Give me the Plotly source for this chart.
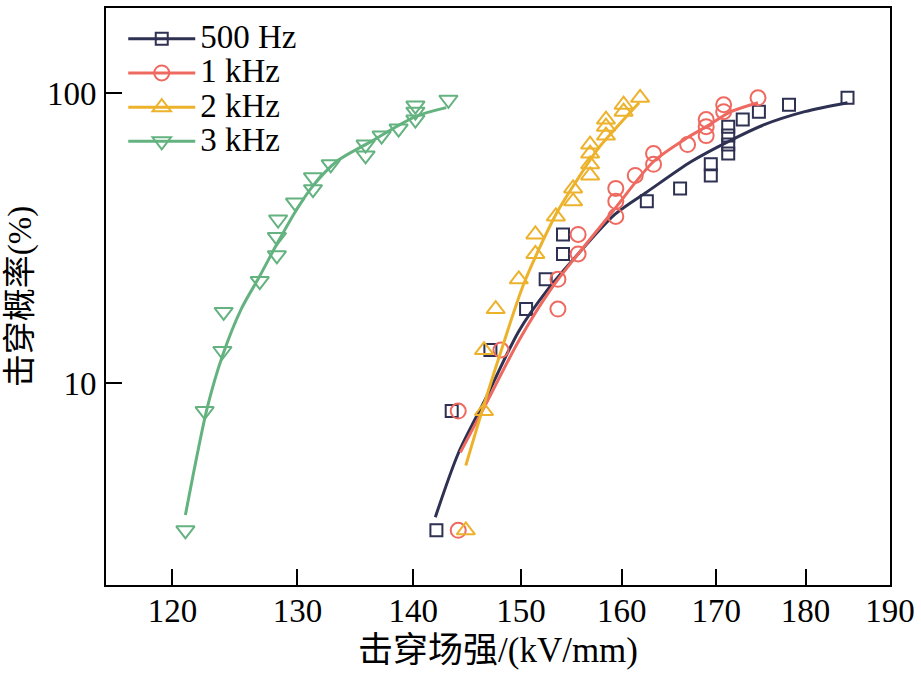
import plotly.graph_objects as go
import math

# ---- data ----
# 500 Hz
hz500_x = [142.1, 143.5, 147.1, 150.5, 152.4, 154.1, 154.1, 162.6, 166.1, 169.4,
           169.4, 171.3, 171.3, 171.3, 171.3, 172.9, 174.7, 178.1, 184.9]
hz500_y = [3.1, 8.0, 13.0, 18.0, 22.8, 27.9, 32.6, 42.4, 47.0, 52.1,
           56.9, 62.0, 66.6, 71.5, 76.8, 81.2, 86.5, 91.4, 96.6]
fit500_x = [142.0, 144.1, 146.7, 149.8, 152.5, 155.6, 159.3, 162.7, 167.3, 171.3, 175.3, 179.9, 184.9]
fit500_y = [3.44, 5.71, 8.90, 15.1, 20.8, 27.9, 38.2, 45.9, 58.2, 68.2, 78.0, 86.5, 92.9]

# 1 kHz
k1_x = [144.1, 144.1, 148.1, 153.6, 153.6, 155.6, 155.6, 159.4, 159.4, 159.4,
        161.4, 163.3, 163.3, 166.9, 168.9, 168.9, 168.9, 170.8, 170.8, 174.6]
k1_y = [3.1, 8.0, 13.0, 18.0, 22.8, 27.9, 32.6, 37.6, 42.4, 47.0,
        52.1, 56.9, 62.0, 66.6, 71.5, 76.8, 81.2, 86.5, 91.4, 96.6]
fit1k_x = [144.3, 146.7, 149.8, 153.0, 155.6, 159.1, 163.3, 166.9, 169.1, 171.6, 174.6]
fit1k_y = [5.76, 8.49, 14.0, 21.3, 27.9, 39.2, 58.2, 70.4, 77.4, 86.5, 92.9]

# 2 kHz
k2_x = [144.8, 146.5, 146.5, 147.6, 149.8, 151.4, 151.4, 153.4, 155.1, 155.1,
        156.8, 156.8, 156.8, 156.8, 158.4, 158.4, 158.4, 160.2, 160.2, 161.9]
k2_y = [3.1, 8.0, 13.0, 18.0, 22.8, 27.9, 32.6, 37.6, 42.4, 47.0,
        52.1, 56.9, 62.0, 66.6, 71.5, 76.8, 81.2, 86.5, 91.4, 96.6]
fit2k_x = [144.8, 146.7, 148.2, 150.3, 153.4, 155.6, 157.6, 160.0, 161.8]
fit2k_y = [5.19, 8.90, 13.2, 22.1, 38.2, 50.9, 64.5, 79.9, 92.9]

# 3 kHz
k3_x = [121.0, 122.5, 123.9, 124.0, 126.9, 128.3, 128.3, 128.4, 129.8, 131.3,
        131.3, 132.8, 135.8, 135.8, 137.2, 138.7, 140.2, 140.2, 140.2, 143.2]
k3_y = [3.1, 8.0, 12.9, 17.6, 22.5, 27.6, 31.9, 36.7, 42.0, 46.7,
        51.3, 56.9, 61.1, 66.6, 71.5, 75.6, 81.2, 86.5, 90.8, 95.1]
fit3k_x = [121.0, 122.7, 123.9, 125.4, 126.9, 128.3, 129.9, 131.2, 133.3, 136.1, 140.2, 143.0]
fit3k_y = [3.5, 8.2, 12.4, 18.0, 23.4, 30.2, 39.5, 47.4, 58.2, 67.6, 83.2, 89.3]

x_ticks = [120, 130, 140, 150, 160, 170, 180, 190]
y_ticks = [10, 100]

series = [
    ("500 Hz", hz500_x, hz500_y, fit500_x, fit500_y, "#2E3152", "square-open", 12),
    ("1 kHz", k1_x, k1_y, fit1k_x, fit1k_y, "#EE6A60", "circle-open", 15),
    ("2 kHz", k2_x, k2_y, fit2k_x, fit2k_y, "#EDB22B", "triangle-up-open", 16),
    ("3 kHz", k3_x, k3_y, fit3k_x, fit3k_y, "#63B27F", "triangle-down-open", 16),
]

fig = go.Figure()
for name, px_, py_, fx, fy, color, sym, size in series:
    fig.add_trace(go.Scatter(x=fx, y=fy, mode="lines",
                             line=dict(color=color, width=3, shape="spline", smoothing=0.8),
                             showlegend=False, hoverinfo="skip"))
    fig.add_trace(go.Scatter(x=px_, y=py_, mode="markers",
                             marker=dict(symbol=sym, size=size, color=color, line=dict(color=color, width=2)),
                             showlegend=False))
    fig.add_trace(go.Scatter(x=[None], y=[None], mode="lines+markers",
                             name="<span style='font-size:33px'>" + name + "</span>",
                             line=dict(color=color, width=3),
                             marker=dict(symbol=sym, size=size, color=color, line=dict(color=color, width=2))))

font_main = "Liberation Serif, Times New Roman, Noto Sans CJK SC"

fig.update_layout(
    width=921, height=675,
    margin=dict(l=106, r=28, t=6, b=90),
    paper_bgcolor="white", plot_bgcolor="white",
    font=dict(family=font_main, color="black", size=30),
    legend=dict(x=0.022, y=0.985, xanchor="left", yanchor="top", bgcolor="rgba(0,0,0,0)",
                font=dict(size=24, family=font_main), itemwidth=67, tracegroupgap=0),
    xaxis=dict(type="log", range=[math.log10(115), math.log10(190)],
               tickvals=x_ticks, ticktext=[str(v) for v in x_ticks],
               ticks="inside", ticklen=16, tickwidth=2, tickcolor="black",
               showline=True, linecolor="black", linewidth=2, mirror=True,
               showgrid=False, zeroline=False, ticklabelstandoff=-5,
               tickfont=dict(size=33, family=font_main),
               title=dict(text="击穿场强/(kV/mm)", font=dict(size=35, family=font_main), standoff=10)),
    yaxis=dict(type="log", range=[0.3025, 2.295],
               tickvals=y_ticks, ticktext=[str(v) for v in y_ticks],
               ticks="inside", ticklen=16, tickwidth=2, tickcolor="black",
               showline=True, linecolor="black", linewidth=2, mirror=True,
               showgrid=False, zeroline=False, ticklabelstandoff=1,
               tickfont=dict(size=33, family=font_main),
               title=dict(text="击穿概率(%)", font=dict(size=33, family=font_main), standoff=5)),
)

fig.write_html("out.html", post_script="document.body.style.margin='0';",
               config={"displayModeBar": False})
